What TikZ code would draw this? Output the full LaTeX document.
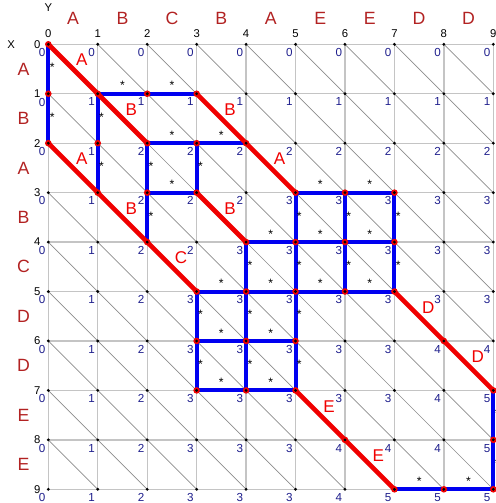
\documentclass[tikz,border=0pt]{standalone}
\usepackage{fontspec}
\setmainfont{Liberation Sans}
\definecolor{seqred}{HTML}{B22222}
\definecolor{numblue}{HTML}{1E1E8C}
\definecolor{gridgray}{HTML}{C4C4C4}
\definecolor{diaggray}{HTML}{8C8C8C}
\definecolor{pathblue}{HTML}{0000F0}
\definecolor{pathred}{HTML}{F00000}
\tikzset{
  gridline/.style={draw=gridgray,line width=0.75pt},
  diagline/.style={draw=diaggray,line width=0.4pt},
  pathline/.style={draw=pathblue,line width=2.3pt},
  matchline/.style={draw=pathred,line width=2.7pt,line cap=round},
  seqletter/.style={text=seqred,font=\fontsize{10.2}{12}\selectfont,inner sep=0pt},
  matchletter/.style={text=pathred,font=\fontsize{9.8}{12}\selectfont,inner sep=0.4pt,anchor=south west},
  idxlabel/.style={font=\fontsize{6.5}{7}\selectfont,inner sep=0pt},
  cellvalue/.style={text=numblue,font=\fontsize{6.7}{7}\selectfont,inner sep=0pt,anchor=north east,xshift=-1.5pt,yshift=-2.2pt},
  hstar/.style={font=\fontsize{7}{7}\selectfont,inner sep=0pt,midway,yshift=4.6pt},
  vstar/.style={font=\fontsize{7}{7}\selectfont,inner sep=0pt,pos=0.47,xshift=2.2pt}
}

\begin{document}
\begin{tikzpicture}[x=1cm,y=-1cm]
  \useasboundingbox (-0.977,-0.896) rectangle (9.05,9.277);
  % grid points
  \foreach \r in {0,...,9}
    \foreach \c in {0,...,9}
      \coordinate (p\c-\r) at (\c,\r);
  % grid and diagonals
  \foreach \i in {0,...,9} {
    \draw[gridline] (p\i-0) -- (p\i-9);
    \draw[gridline] (p0-\i) -- (p9-\i);
  }
  \foreach \r in {0,...,8}
    \foreach \c in {0,...,8}
      \draw[diagline] (p\c-\r) -- ++(1,1);
  % sequences and indices
  \node[idxlabel] (xlab) at (-0.754,0) {X};
  \node[idxlabel] (ylab) at (0,-0.744) {Y};
  \foreach \ch [count=\k from 0] in {A,B,C,B,A,E,E,D,D}
    \node[seqletter] (y\k) at (\k+0.5,-0.53) {\ch};
  \foreach \ch [count=\k from 0] in {A,B,A,B,C,D,D,E,E}
    \node[seqletter] (x\k) at (-0.5,\k+0.5) {\ch};
  \foreach \i in {0,...,9} {
    \node[idxlabel,anchor=base,yshift=3.8pt] (cn\i) at (p\i-0) {\i};
    \node[idxlabel,anchor=east,xshift=-4.4pt] (rn\i) at (p0-\i) {\i};
  }
  % blue paths
  \foreach \a/\b [count=\k] in {p1-1/p2-1,p2-1/p3-1,p2-2/p3-2,p3-2/p4-2,p2-3/p3-3,
      p5-3/p6-3,p6-3/p7-3,p4-4/p5-4,p5-4/p6-4,p6-4/p7-4,p3-5/p4-5,p4-5/p5-5,
      p5-5/p6-5,p6-5/p7-5,p3-6/p4-6,p4-6/p5-6,p3-7/p4-7,p4-7/p5-7,p7-9/p8-9,p8-9/p9-9}
    \draw[pathline] (\a) -- node[hstar] (hs\k) {*} (\b);
  \foreach \a/\b [count=\k] in {p0-0/p0-1,p0-1/p0-2,p1-1/p1-2,p1-2/p1-3,p2-2/p2-3,
      p2-3/p2-4,p3-2/p3-3,p5-3/p5-4,p5-4/p5-5,p5-5/p5-6,p5-6/p5-7,p6-3/p6-4,
      p6-4/p6-5,p7-3/p7-4,p7-4/p7-5,p4-4/p4-5,p4-5/p4-6,p4-6/p4-7,p3-5/p3-6,
      p3-6/p3-7,p9-7/p9-8,p9-8/p9-9}
    \draw[pathline] (\a) -- node[vstar] (vs\k) {*} (\b);
  % matches
  \foreach \a/\b/\ch [count=\k] in {p0-0/p1-1/A,p1-1/p2-2/B,p3-1/p4-2/B,p4-2/p5-3/A,
      p0-2/p1-3/A,p1-3/p2-4/B,p2-4/p3-5/C,p3-3/p4-4/B,p7-5/p8-6/D,p8-6/p9-7/D,
      p5-7/p6-8/E,p6-8/p7-9/E}
    \draw[matchline] (\a) -- node[matchletter,midway] (m\k) {\ch} (\b);
  % path vertices
  \foreach \p in {p0-0,p0-1,p0-2,p1-1,p2-1,p3-1,p1-2,p2-2,p3-2,p4-2,p1-3,p2-3,
      p3-3,p2-4,p5-3,p6-3,p7-3,p4-4,p5-4,p6-4,p7-4,p3-5,p4-5,p5-5,p6-5,p7-5,
      p3-6,p4-6,p5-6,p3-7,p4-7,p5-7,p8-6,p9-7,p6-8,p7-9,p9-8,p8-9,p9-9}
    \fill[pathred] (\p) circle (1.9pt);
  \foreach \r in {0,...,9}
    \foreach \c in {0,...,9}
      \fill (p\c-\r) circle (0.9pt);
  % table values
  \foreach \vals [count=\r from 0] in {{0,0,0,0,0,0,0,0,0,0},{0,1,1,1,1,1,1,1,1,1},
      {0,1,2,2,2,2,2,2,2,2},{0,1,2,2,2,3,3,3,3,3},{0,1,2,2,3,3,3,3,3,3},
      {0,1,2,3,3,3,3,3,3,3},{0,1,2,3,3,3,3,3,4,4},{0,1,2,3,3,3,3,3,4,5},
      {0,1,2,3,3,3,4,4,4,5},{0,1,2,3,3,3,4,5,5,5}}
    \foreach \v [count=\c from 0] in \vals
      \node[cellvalue] (v\c-\r) at (p\c-\r) {\v};
\end{tikzpicture}
\end{document}
